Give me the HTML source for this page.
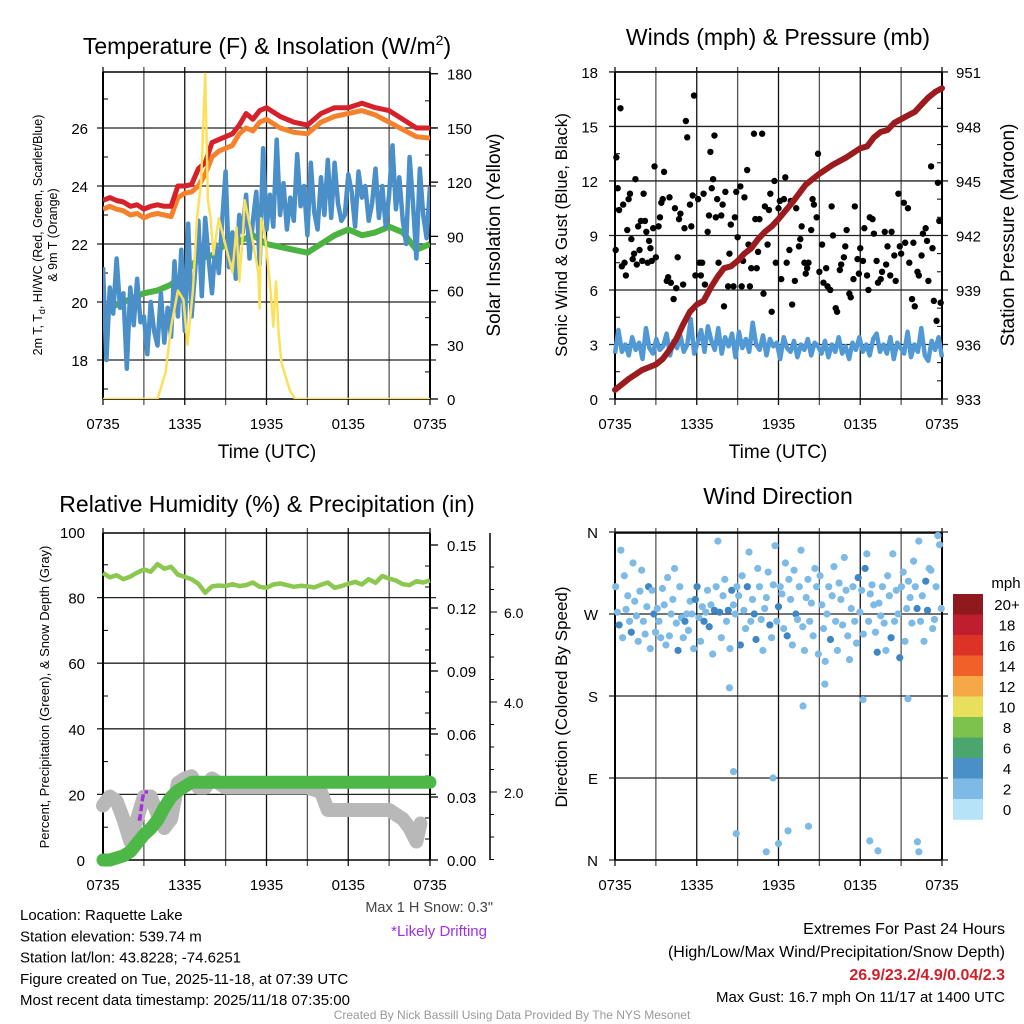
<!DOCTYPE html>
<html><head><meta charset="utf-8"><style>
html,body{margin:0;padding:0;background:#fff;}
svg{display:block;font-family:"Liberation Sans",Arial,sans-serif;}
</style></head><body>
<svg id="fig" width="1024" height="1024" viewBox="0 0 1024 1024" xmlns="http://www.w3.org/2000/svg">
<rect width="1024" height="1024" fill="#fff"/>
</svg>
<script>
// ---------- DATA ----------
const xTickLabels = ["0735","1335","1935","0135","0735"];
const tempTicks = [18,20,22,24,26];
const solarTicks = [0,30,60,90,120,150,180];
const windTicks = [0,3,6,9,12,15,18];
const presTicks = [933,936,939,942,945,948,951];
const rhTicks = [0,20,40,60,80,100];
const precipTicks = ["0.00","0.03","0.06","0.09","0.12","0.15"];
const snowTicks = ["2.0","4.0","6.0"];
const dirTicks = ["N","E","S","W","N"];
const cbarLabels = ["20+","18","16","14","12","10","8","6","4","2","0"];
const cbarColors = ["#8e1a1d","#be1e2d","#dd3327","#ef6128","#f6a847","#e8e05c","#7cc24c","#4aa66c","#4a8fc6","#7dbbe6","#b6e3f8"];

const redHours = [0,0.5,1,1.5,2,2.5,3,3.5,4,4.5,5,5.5,6,6.5,7,7.5,8,8.5,9,9.5,10,10.5,11,11.5,12,13,14,15,16,17,18,19,20,21,22,23,24];
const redT = [23.5,23.6,23.5,23.45,23.3,23.35,23.2,23.3,23.35,23.3,23.3,24.0,24.0,24.05,24.6,24.8,25.5,25.6,25.7,25.8,26.1,26.5,26.3,26.6,26.7,26.4,26.2,26.1,26.5,26.7,26.7,26.85,26.7,26.6,26.3,26.0,26.0];
const orangeT = [23.2,23.3,23.2,23.15,23.0,23.05,22.9,23.0,23.05,23.0,22.95,23.6,23.75,23.8,24.0,24.4,25.0,25.2,25.3,25.4,25.8,26.0,25.9,26.2,26.3,26.0,25.85,25.8,26.2,26.4,26.5,26.6,26.45,26.2,25.95,25.7,25.65];
const greenHours = [0,1,2,3,4,5,6,7,8,9,10,11,12,13,14,15,16,17,18,19,20,21,22,23,24];
const greenT = [19.8,19.9,20.1,20.3,20.4,20.6,21.0,21.5,21.6,22.0,22.1,22.3,22.0,21.9,21.8,21.7,22.0,22.3,22.5,22.3,22.4,22.6,22.4,21.8,22.0];
const blueT = [21.2,18.0,20.5,19.6,21.5,19.8,20.3,17.7,20.5,19.2,20.8,19.3,19.5,18.2,20.0,19.0,18.5,20.3,18.6,19.8,18.8,21.4,19.5,21.8,19.0,
 22.7,19.5,21.0,22.8,20.2,22.9,21.5,20.3,22.0,21.0,22.8,24.5,21.2,22.4,20.8,23.0,
 22.4,23.7,21.5,22.8,23.8,21.3,25.3,22.5,23.7,22.6,25.6,23.0,24.1,22.5,23.6,22.8,25.1,23.3,24.0,22.3,24.8,23.1,22.5,24.3,23.0,24.9,22.9,24.8,23.4,22.8,23.0,24.4,23.8,22.6,24.5,23.6,24.0,22.8,23.4,24.6,22.9,24.0,22.6,23.7,25.4,23.2,24.3,22.8,22.0,25.0,23.4,21.5,24.6,23.0,22.2,24.0];
const solarHours = [0,4.0,4.6,5.0,5.5,5.9,6.2,6.6,6.9,7.2,7.5,7.7,7.9,8.1,8.5,9.0,9.5,9.8,10.0,10.3,10.4,10.8,11.4,11.5,11.6,11.9,12.3,12.5,12.7,12.9,13.1,13.7,14.1,24];
const solar = [0,0,15,40,60,55,30,60,100,120,180,110,100,80,100,85,70,95,65,95,110,95,70,50,100,90,60,40,65,35,20,5,0,0];

const windSust = [2.5,3.8,2.6,3.0,2.4,3.4,2.7,3.1,2.2,3.9,2.8,2.5,3.3,2.7,2.9,3.6,2.4,3.2,2.8,3.5,2.6,3.0,4.4,2.5,3.1,
 3.8,2.6,4.0,3.2,2.7,3.9,2.5,3.4,2.9,3.6,2.3,3.7,2.8,3.3,2.6,4.2,3.0,2.7,3.5,2.4,3.3,2.9,3.1,2.2,3.4,2.8,2.6,3.2,2.3,3.0,
 2.7,3.3,2.4,3.1,2.9,2.5,3.2,2.3,3.0,2.6,3.4,2.5,2.9,2.2,3.1,2.7,3.4,2.6,3.0,2.4,3.3,3.6,2.6,3.0,2.5,3.4,2.2,3.1,2.8,2.5,3.7,2.3,3.0,2.6,3.9,2.4,2.1,3.2,2.7,3.4,2.3];
const gustHours = [0.05,0.1,0.2,0.3,0.4,0.5,0.6,0.7,0.8,0.9,1.0,1.1,1.2,1.3,1.4,1.5,1.6,1.7,1.8,1.9,2.0,2.1,2.2,2.3,2.4,2.5,2.6,2.7,2.8,2.9,3.0,3.2,3.3,3.4,3.5,3.6,3.8,3.9,4.0,4.1,4.3,4.4,4.5,4.6,4.7,4.8,5.0,5.1,5.2,5.3,5.5,5.6,5.7,5.8,5.9,6.1,6.2,6.3,6.4,6.5,6.6,6.8,6.9,7.0,7.1,7.2,7.3,7.4,7.5,7.6,7.8,7.9,8.0,8.1,8.3,8.4,8.5,8.7,8.8,8.9,9.0,9.2,9.3,9.4,9.5,9.7,9.8,9.9,10.0,10.2,10.3,10.4,10.5,10.6,10.8,10.9,11.0,11.2,11.3,11.4,11.5,11.7,11.8,12.0,12.1,12.2,12.4,12.5,12.6,12.8,12.9,13.0,13.2,13.3,13.5,13.6,13.7,13.9,14.0,14.1,14.2,14.4,14.5,14.6,14.8,14.9,15.0,15.2,15.3,15.5,15.6,15.8,15.9,16.0,16.2,16.3,16.5,16.6,16.8,16.9,17.0,17.2,17.3,17.5,17.6,17.8,17.9,18.0,18.2,18.3,18.5,18.6,18.7,18.9,19.0,19.2,19.3,19.5,19.6,19.8,19.9,20.0,20.2,20.3,20.5,20.6,20.8,20.9,21.0,21.2,21.3,21.5,21.6,21.8,21.9,22.0,22.2,22.3,22.5,22.6,22.8,22.9,23.0,23.2,23.3,23.4,23.6,23.7,23.8,23.9];
const gust = [8.2,13.3,11.6,10.4,16.0,7.3,10.7,7.5,6.8,9.3,11.0,11.3,8.8,7.7,8.0,12.1,7.4,9.5,8.2,9.8,7.6,11.3,9.8,9.2,7.5,8.7,8.3,7.6,9.4,12.8,7.8,9.5,10.0,10.8,11.0,12.5,6.5,6.7,11.1,6.4,5.5,10.5,6.1,7.8,9.9,10.2,6.3,9.4,15.3,14.4,10.7,9.5,11.2,16.7,6.8,11.0,7.5,6.8,7.5,11.3,6.3,9.2,10.1,13.6,11.6,12.1,14.5,10.0,11.0,7.5,10.1,10.7,5.1,11.4,6.2,8.0,9.6,6.2,10.0,11.4,8.9,11.7,6.2,7.6,11.1,12.6,8.5,6.2,7.2,14.6,9.9,7.2,8.1,9.9,14.6,5.8,10.6,8.5,10.4,11.3,4.8,12.0,7.5,10.5,10.9,6.6,11.0,12.2,7.5,8.2,10.9,5.2,6.5,10.5,8.4,8.8,9.5,7.5,6.9,7.2,7.5,9.3,11.0,10.7,10.0,13.5,7.0,8.5,6.4,7.2,6.2,6.0,10.6,9.0,5.0,4.8,7.1,7.4,7.8,8.4,9.3,5.8,5.6,6.6,10.6,7.7,6.9,8.3,7.6,9.4,6.8,6.0,10.0,9.9,9.1,7.6,6.4,6.6,7.0,9.2,7.4,8.4,6.8,9.2,7.9,6.5,11.3,8.4,8.0,10.8,8.6,10.5,7.5,5.5,8.6,5.1,7.0,6.8,7.9,9.1,9.4,8.7,6.5,12.8,8.3,5.4,4.3,11.9,9.8,5.3,8.0,6.9,10.1,9.6,7.6,12.8,6.1,5.7,10.6,4.9,5.2];
const presHours = [0,1,2,3,3.5,4,4.5,5,5.5,6,6.5,7,7.5,8,8.5,9,9.5,10,10.5,11,11.5,12,13,14,15,16,17,18,18.5,19,19.5,20,20.5,21,21.5,22,22.5,23,23.5,24];
const pres = [933.5,934.1,934.6,934.9,935.2,935.7,936.3,937.1,937.8,938.2,938.4,939.1,939.7,940.2,940.3,940.6,941.0,941.3,941.8,942.2,942.5,942.9,943.8,944.8,945.4,945.9,946.3,946.8,946.9,947.4,947.7,947.8,948.2,948.4,948.6,948.8,949.2,949.6,949.9,950.1];

const rhHours = [0,0.5,1,1.5,2,2.5,3,3.5,4,4.5,5,5.5,6,6.5,7,7.5,8,8.5,9,9.5,10,10.5,11,11.5,12,12.5,13,13.5,14,14.5,15,15.5,16,16.5,17,17.5,18,18.5,19,19.5,20,20.5,21,21.5,22,22.5,23,23.5,24];
const rh = [87.5,86.2,86.8,85.6,86.4,87.6,88.6,87.9,90.2,88.8,89.4,87.0,86.3,85.6,84.2,81.5,83.4,83.7,83.5,84.1,83.5,83.8,84.6,83.3,83.0,84.0,84.3,83.8,83.3,83.6,83.4,83.1,83.9,84.6,83.0,83.5,84.2,84.8,84.0,85.6,84.5,86.6,85.8,85.2,84.1,83.8,85.0,84.6,85.2];
const precipHours = [0,0.5,1,1.5,2,2.5,3,3.5,4,4.5,5,5.5,6,6.5,7,24];
const precip = [0,0,0.001,0.002,0.004,0.008,0.012,0.015,0.019,0.025,0.030,0.033,0.035,0.037,0.037,0.037];
const snowHours = [0,0.5,1,1.5,2,2.5,3,3.5,4,4.5,5,5.5,6,6.5,7,7.5,8,9,10,11,12,13,14,15,16,16.5,17,18,19,20,21,21.5,22,22.5,23,23.3];
const snow = [1.7,1.9,1.8,1.4,0.9,1.4,1.9,1.9,1.5,1.2,1.4,2.2,2.3,2.35,2.1,2.1,2.3,2.1,2.1,2.1,2.1,2.1,2.1,2.1,2.0,1.6,1.6,1.6,1.6,1.6,1.6,1.5,1.4,1.2,0.9,1.3];
const driftHours = [2.55,2.7,2.9,3.0,3.3];
const drift = [1.4,1.4,1.85,2.0,2.0];

// wind direction main cluster (evenly spaced in time) and outliers
const dirDeg = [300,272,258,340,244,312,275,290,262,250,326,284,268,240,295,318,262,248,278,300,232,296,270,250,276,262,244,298,280,236,310,246,270,286,320,260,230,300,266,244,262,270,252,284,270,232,286,300,266,240,278,262,272,296,256,280,226,274,300,350,272,244,290,308,262,274,232,296,280,270,300,290,236,312,274,254,300,338,262,286,270,242,320,300,264,230,276,288,316,258,244,302,345,262,278,300,292,254,326,246,308,286,236,318,270,264,300,340,256,230,288,308,262,282,246,320,300,226,312,280,254,218,270,300,242,290,322,262,230,304,286,258,332,296,246,220,276,300,262,238,310,272,296,248,320,336,262,292,302,280,250,228,282,268,300,260,230,312,290,244,336,262,296,270,222,300,316,240,276,306,288,260,328,300,276,350,262,290,240,306,274,320,318,254,264,300,356,346,276];
const dirSpd = [2,2,4,2,2,2,2,2,2,4,2,2,2,2,2,2,2,2,2,4,2,2,4,2,2,2,2,2,2,2,2,2,2,2,2,2,4,2,2,2,4,2,2,2,2,2,4,4,2,2,2,4,2,2,4,2,2,4,2,2,4,2,2,2,2,4,2,4,2,2,2,2,4,2,2,2,4,2,2,2,4,4,2,2,2,2,2,2,2,4,2,2,2,2,4,2,2,2,2,4,2,2,2,2,4,2,2,2,2,2,2,2,2,2,2,2,2,2,2,2,2,2,2,2,4,2,2,2,2,2,2,2,2,2,2,2,2,2,2,2,4,2,2,2,4,2,2,2,2,2,2,4,2,2,2,2,2,2,2,4,2,2,2,2,4,2,2,2,2,2,2,2,2,2,4,2,2,2,2,4,4,2,2,2,2,2,2,2,2,2];
const outHours = [8.4,8.7,8.9,11.1,11.6,12.0,12.7,13.8,14.2,15.4,18.2,18.7,19.3,21.5,22.2,22.3];
const outDeg = [189,97,29,9,90,18,32,169,37,193,176,21,10,177,20,9];

// ---------- HELPERS ----------
const NS = "http://www.w3.org/2000/svg";
const svg = document.getElementById("fig");
function mk(tag, attrs, parent){
  const e = document.createElementNS(NS, tag);
  for (const k in attrs) e.setAttribute(k, attrs[k]);
  (parent||svg).appendChild(e);
  return e;
}
function txt(s, x, y, size, anchor, parent, extra){
  const a = {x:x, y:y, "font-size":size, "text-anchor":anchor||"middle", fill:"#000"};
  if (extra) for (const k in extra) a[k]=extra[k];
  const e = mk("text", a, parent);
  e.textContent = s;
  return e;
}
function pathFrom(xs, ys, fx, fy){
  return xs.map((h,i)=>(i?"L":"M")+fx(h).toFixed(1)+" "+fy(ys[i]).toFixed(1)).join(" ");
}
function idxHours(n){ return Array.from({length:n},(_,i)=>i*24/(n-1)); }

// scales
const xL = h => 103 + h/24*327;
const xR = h => 615 + h/24*327;
const yTemp = t => 128 + (26-t)*29;
const ySolar = s => 399 - s*1.807;
const yWind = w => 399 - w*18.17;
const yPres = p => 399 - (p-933)*18.17;
const yRH = r => 860 - r*3.28;
const yPrecip = p => 860 - p*2100;
const ySnow = s => 882 - s*45;
const yDir = d => 860 - d/360*328;

function frame(x0,y0,x1,y1,hTicksY,name){
  const g = mk("g",{});
  
  
  for (let i=0;i<=8;i++){
    const x = x0 + i*(x1-x0)/8;
    mk("line",{x1:x,y1:y0-5,x2:x,y2:y1+6,stroke:(i%2?"#555":"#111"),"stroke-width":1.3},g);
  }
  hTicksY.forEach(y=>mk("line",{x1:x0-6,y1:y,x2:x1+6,y2:y,stroke:"#222","stroke-width":1.3},g));
  mk("line",{x1:x0,y1:y0,x2:x1,y2:y0,stroke:"#000","stroke-width":1.5},g);
  mk("line",{x1:x0,y1:y1,x2:x1,y2:y1,stroke:"#000","stroke-width":1.5},g);
  mk("line",{x1:x0,y1:y0,x2:x0,y2:y1,stroke:"#000","stroke-width":2},g);
  mk("line",{x1:x1,y1:y0,x2:x1,y2:y1,stroke:"#000","stroke-width":2},g);
  xTickLabels.forEach((s,i)=>{
    const t = txt(s, x0+i*(x1-x0)/4, y1+30, 15, "middle", g);
    
    
  });
  return g;
}
function minor(x, ys, dir, g){ ys.forEach(y=>mk("line",{x1:x,y1:y,x2:x+dir*5,y2:y,stroke:"#000","stroke-width":1},g)); }

// ---------- PANEL 1 ----------
const p1 = frame(103,72,430,399,tempTicks.map(yTemp),"temperature-panel");
minor(103,[17,19,21,23,25,27].map(yTemp),1,p1);
minor(430,[15,45,75,105,135,165].map(ySolar),-1,p1);
tempTicks.forEach(t=>{ const e=txt(String(t),88,yTemp(t)+6,15,"end",p1);   });
solarTicks.forEach(s=>{ mk("line",{x1:430,y1:ySolar(s),x2:438,y2:ySolar(s),stroke:"#000","stroke-width":1.3},p1); const e=txt(String(s),447,ySolar(s)+6,15,"start",p1);   });
const ttl1 = txt("",267,54,23,"middle");
ttl1.innerHTML = 'Temperature (F) &amp; Insolation (W/m<tspan dy="-9" font-size="14">2</tspan><tspan dy="9">)</tspan>';


const xl1 = txt("Time (UTC)",267,458,19,"middle");


const yl1 = mk("text",{transform:"translate(42,235) rotate(-90)","font-size":12.5,"text-anchor":"middle"});
yl1.innerHTML = '<tspan x="0" dy="0">2m T, T<tspan font-size="9" dy="3">d</tspan><tspan dy="-3">, HI/WC (Red, Green, Scarlet/Blue)</tspan></tspan><tspan x="0" dy="15">&amp; 9m T (Orange)</tspan>';


const yr1 = txt("Solar Insolation (Yellow)",0,0,19,"middle",svg,{transform:"translate(500,235) rotate(-90)"});


const clip1 = mk("clipPath",{id:"c1"}); mk("rect",{x:103,y:72,width:327,height:327},clip1);
const s1 = mk("g",{"clip-path":"url(#c1)"});
const greenL = mk("path",{d:pathFrom(greenHours,greenT,xL,yTemp),fill:"none",stroke:"#4bb33f","stroke-width":6,"stroke-linejoin":"round"},s1);


const blueL = mk("path",{d:pathFrom(idxHours(blueT.length),blueT,xL,yTemp),fill:"none",stroke:"#4a8fc8","stroke-width":4.5,"stroke-linejoin":"round"},s1);


const orL = mk("path",{d:pathFrom(redHours,orangeT,xL,yTemp),fill:"none",stroke:"#f5812d","stroke-width":5,"stroke-linejoin":"round"},s1);


const redL = mk("path",{d:pathFrom(redHours,redT,xL,yTemp),fill:"none",stroke:"#d7212a","stroke-width":5,"stroke-linejoin":"round"},s1);


const solL = mk("path",{d:pathFrom(solarHours,solar,xL,ySolar),fill:"none",stroke:"#fde05a","stroke-width":2.5,"stroke-linejoin":"round"},s1);



// ---------- PANEL 2 ----------
const p2 = frame(615,72,942,399,windTicks.map(yWind),"wind-panel");
minor(615,[1.5,4.5,7.5,10.5,13.5,16.5].map(yWind),1,p2);
minor(942,[934,935,937,938,940,941,943,944,946,947,949,950].map(yPres),-1,p2);
windTicks.forEach(w=>{ const e=txt(String(w),598,yWind(w)+6,15,"end",p2);   });
presTicks.forEach(p=>{ const e=txt(String(p),956,yPres(p)+6,15,"start",p2);   });
const ttl2 = txt("Winds (mph) & Pressure (mb)",778,45,23,"middle");


const xl2 = txt("Time (UTC)",778,458,19,"middle");


const yl2 = txt("Sonic Wind & Gust (Blue, Black)",0,0,17,"middle",svg,{transform:"translate(567,235) rotate(-90)"});


const yr2 = txt("Station Pressure (Maroon)",0,0,19,"middle",svg,{transform:"translate(1014,235) rotate(-90)"});


const clip2 = mk("clipPath",{id:"c2"}); mk("rect",{x:612,y:68,width:334,height:334},clip2);
const s2 = mk("g",{"clip-path":"url(#c2)"});
const wl = mk("path",{d:pathFrom(idxHours(windSust.length),windSust,xR,yWind),fill:"none",stroke:"#5199d4","stroke-width":4.5,"stroke-linejoin":"round"},s2);


gustHours.forEach((h,i)=>{
  const c = mk("circle",{cx:xR(h),cy:yWind(gust[i]),r:3.2,fill:"#000"},s2);
  
  
});
const pl = mk("path",{d:pathFrom(presHours,pres,xR,yPres),fill:"none",stroke:"#9b1b1e","stroke-width":6,"stroke-linecap":"round","stroke-linejoin":"round"},s2);



// ---------- PANEL 3 ----------
const p3 = frame(103,533,430,860,[yRH(20),yRH(40),yRH(60),yRH(80)],"humidity-panel");
minor(103,[10,30,50,70,90].map(yRH),1,p3);
minor(430,[0.01,0.02,0.04,0.05,0.07,0.08,0.1,0.11,0.13,0.14].map(yPrecip),-1,p3);
rhTicks.forEach(r=>{ const e=txt(String(r),85,yRH(r)+6,15,"end",p3);   });
precipTicks.forEach(p=>{ const y=yPrecip(parseFloat(p)); mk("line",{x1:430,y1:y,x2:438,y2:y,stroke:"#000","stroke-width":1.3},p3); const e=txt(p,447,y+6,15,"start",p3);   });
const snowAx = mk("line",{x1:490,y1:533,x2:490,y2:860,stroke:"#000","stroke-width":1.5});


for (let s=0.5;s<=7.2;s+=0.5){ if (ySnow(s)>=533 && ySnow(s)<=860) mk("line",{x1:490,y1:ySnow(s),x2:(s%2===0?497:494),y2:ySnow(s),stroke:"#000","stroke-width":1}); }
snowTicks.forEach(s=>{ const y=ySnow(parseFloat(s)); const e=txt(s,504,y+6,14,"start");   });
const ttl3 = txt("Relative Humidity (%) & Precipitation (in)",267,512,23,"middle");


const yl3 = txt("Percent, Precipitation (Green), & Snow Depth (Gray)",0,0,13,"middle",svg,{transform:"translate(49,697) rotate(-90)"});


const s3 = mk("g",{});
const snowL = mk("path",{d:pathFrom(snowHours,snow,xL,ySnow),fill:"none",stroke:"#b8b8b8","stroke-width":14,"stroke-linecap":"round","stroke-linejoin":"round"},s3);


const drL = mk("path",{d:pathFrom(driftHours,drift,xL,ySnow),fill:"none",stroke:"#a630e0","stroke-width":3.5,"stroke-dasharray":"7 3"},s3);


const prL = mk("path",{d:pathFrom(precipHours,precip,xL,yPrecip),fill:"none",stroke:"#4db848","stroke-width":13,"stroke-linecap":"round","stroke-linejoin":"round"},s3);


const rhL = mk("path",{d:pathFrom(rhHours,rh,xL,yRH),fill:"none",stroke:"#8cc850","stroke-width":4.5,"stroke-linejoin":"round"},s3);



// ---------- PANEL 4 ----------
const p4 = frame(615,533,942,860,[0,90,180,270,360].map(yDir),"wind-direction-panel");
dirTicks.forEach((d,i)=>{ const e=txt(d,598,yDir(i*90)+6,15,"end",p4);   });
const ttl4 = txt("Wind Direction",778,504,23,"middle");


const yl4 = txt("Direction (Colored By Speed)",0,0,17,"middle",svg,{transform:"translate(567,697) rotate(-90)"});


const spdColor = s => s>=4 ? "#3f86c4" : "#7dbbe6";
const dirHours = dirDeg.map((_,i)=>0.05 + i*23.9/(dirDeg.length-1));
dirHours.forEach((h,i)=>{
  const c = mk("circle",{cx:xR(h),cy:yDir(dirDeg[i]),r:3.6,fill:spdColor(dirSpd[i]||2)});
  
  
});
outHours.forEach((h,i)=>{
  const c = mk("circle",{cx:xR(h),cy:yDir(outDeg[i]),r:3.6,fill:"#7dbbe6"});
  
  
});
// colorbar
const cb = mk("g",{});


const mph = txt("mph",1006,588,15,"middle",cb);


cbarColors.forEach((c,i)=>{
  const y = 594 + i*20.5;
  const r = mk("rect",{x:953,y:y,width:30,height:20.8,fill:c},cb);
  
  
  const t = txt(cbarLabels[i],1007,y+16,15,"middle",cb);
  
  
});

// ---------- FOOTER TEXT ----------
const info = ["Location: Raquette Lake","Station elevation: 539.74 m","Station lat/lon: 43.8228; -74.6251","Figure created on Tue, 2025-11-18, at 07:39 UTC","Most recent data timestamp: 2025/11/18 07:35:00"];
info.forEach((s,i)=>{ const t=txt(s,20,920+i*21.3,15,"start");   });
const ms = txt('Max 1 H Snow: 0.3"',493,912,14.5,"end",svg,{fill:"#444"});


const ld = txt("*Likely Drifting",487,936,15,"end",svg,{fill:"#a030e8"});


const ex1 = txt("Extremes For Past 24 Hours",1005,934,16,"end");


const ex2 = txt("(High/Low/Max Wind/Precipitation/Snow Depth)",1005,957,16,"end");


const ex3 = txt("26.9/23.2/4.9/0.04/2.3",1005,980,16,"end",svg,{fill:"#d0202a","font-weight":"bold"});


const ex4 = txt("Max Gust: 16.7 mph On 11/17 at 1400 UTC",1005,1002,15,"end");


const cr = txt("Created By Nick Bassill Using Data Provided By The NYS Mesonet",512,1019,12,"middle",svg,{fill:"#999"});


</script>
</body></html>
